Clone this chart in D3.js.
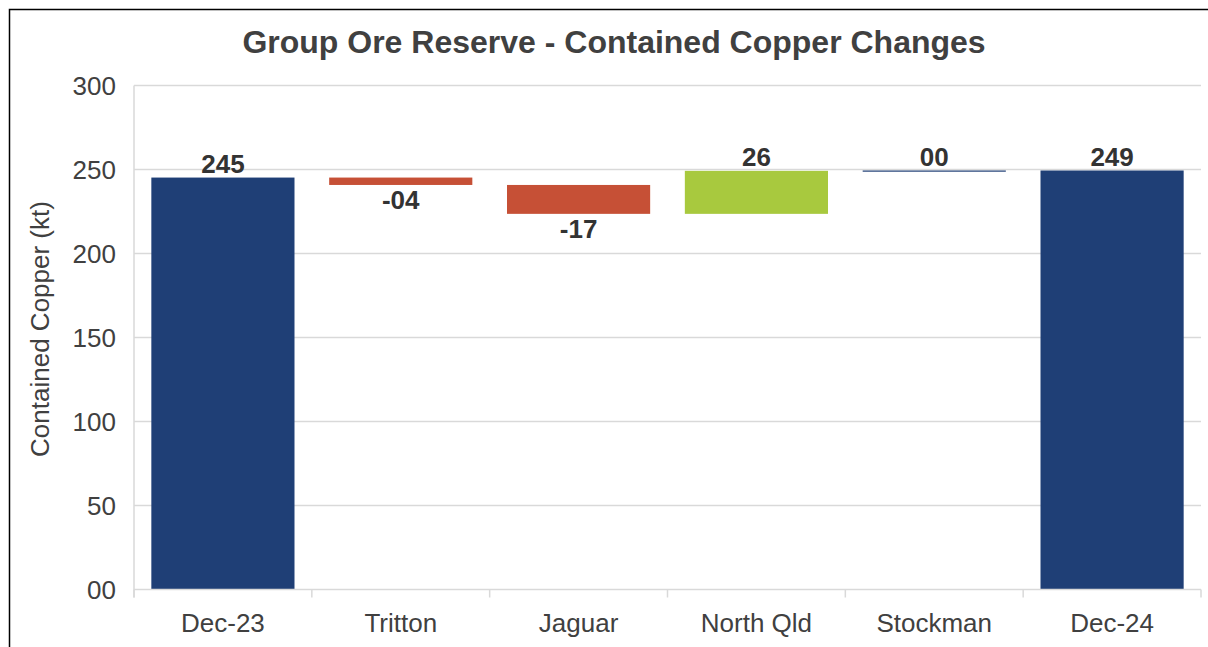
<!DOCTYPE html>
<html>
<head>
<meta charset="utf-8">
<script src="https://cdn.jsdelivr.net/npm/d3@7"></script>
<style>
  html, body { margin: 0; padding: 0; background: #fff; }
  svg { display: block; font-family: "Liberation Sans", Arial, sans-serif; }
</style>
</head>
<body>
<svg id="chart" width="1208" height="647"></svg>
<script>
const categories = ["Dec-23", "Tritton", "Jaguar", "North Qld", "Stockman", "Dec-24"];
const changes = [245.2, -4.4, -17.2, 25.6, 0.2, null]; // first = opening total, last = closing total (computed)
const kinds = ["total", "change", "change", "change", "change", "total"];
const barColors = ["#1F3F76", "#C65036", "#C65036", "#A8C93E", "#1F3F76", "#1F3F76"];
const yTicks = [0, 50, 100, 150, 200, 250, 300];
const title = "Group Ore Reserve - Contained Copper Changes";
const yTitle = "Contained Copper (kt)";

// build waterfall segments
let running = 0;
const bars = categories.map((c, i) => {
  let y0, y1, v, type;
  if (kinds[i] === "total") {
    if (changes[i] !== null) running = changes[i];
    y0 = 0; y1 = running; v = running; type = "total";
  } else {
    v = changes[i];
    y0 = running; y1 = running + v; running = y1;
    type = v < 0 ? "down" : "up";
  }
  return { cat: c, y0, y1, v, type, color: barColors[i] };
});

const svg = d3.select("#chart");
const W = 1208, H = 647;
const m = { left: 134, right: 7, top: 85.5, bottom: 57.5 };

// outer border
svg.append("path")
  .attr("d", `M9.5,${H} L9.5,9.5 L${W},9.5`)
  .attr("fill", "none").attr("stroke", "#000").attr("stroke-width", 1.5);

const x = d3.scaleBand().domain(categories)
  .range([m.left, W - m.right]).paddingInner(0.195).paddingOuter(0.0975);
const y = d3.scaleLinear().domain([0, 300]).range([H - m.bottom, m.top]);

// gridlines
svg.append("g").selectAll("line").data(yTicks.filter(d => d > 0)).join("line")
  .attr("x1", m.left).attr("x2", W - m.right)
  .attr("y1", d => y(d)).attr("y2", d => y(d))
  .attr("stroke", "#D9D9D9").attr("stroke-width", 1.5);

// left plot border
svg.append("line")
  .attr("x1", m.left).attr("x2", m.left)
  .attr("y1", y(300)).attr("y2", y(0) + 8)
  .attr("stroke", "#D9D9D9").attr("stroke-width", 1.5);

// bars
svg.append("g").selectAll("rect").data(bars).join("rect")
  .attr("x", d => x(d.cat))
  .attr("width", x.bandwidth())
  .attr("y", d => Math.min(y(d.y0), y(d.y1)))
  .attr("height", d => Math.max(1.2, Math.abs(y(d.y0) - y(d.y1))))
  .attr("fill", d => d.color);

// x axis line + ticks
const step = x.step();
const bounds = d3.range(categories.length + 1).map(i => m.left + i * step);
svg.append("line")
  .attr("x1", m.left).attr("x2", W - m.right)
  .attr("y1", y(0)).attr("y2", y(0))
  .attr("stroke", "#D9D9D9").attr("stroke-width", 1.5);
svg.append("g").selectAll("line").data(bounds).join("line")
  .attr("x1", d => d).attr("x2", d => d)
  .attr("y1", y(0)).attr("y2", y(0) + 8)
  .attr("stroke", "#D9D9D9").attr("stroke-width", 1.5);

// x labels
svg.append("g").selectAll("text").data(categories).join("text")
  .attr("x", d => x(d) + x.bandwidth() / 2)
  .attr("y", y(0) + 42.5)
  .attr("text-anchor", "middle")
  .attr("font-size", 26).attr("fill", "#404040")
  .text(d => d);

// y labels
const fmt = d => d3.format("02d")(Math.round(d));
svg.append("g").selectAll("text").data(yTicks).join("text")
  .attr("x", 116)
  .attr("y", d => y(d) + 9.5)
  .attr("text-anchor", "end")
  .attr("font-size", 26).attr("fill", "#404040")
  .text(d => fmt(d));

// y title
svg.append("text")
  .attr("transform", `translate(49,329) rotate(-90)`)
  .attr("text-anchor", "middle")
  .attr("font-size", 26).attr("fill", "#404040")
  .text(yTitle);

// title
svg.append("text")
  .attr("x", 614).attr("y", 53)
  .attr("text-anchor", "middle")
  .attr("font-size", 32).attr("font-weight", "bold").attr("fill", "#404040")
  .text(title);

// data labels
const labFmt = v => {
  const r = Math.round(v);
  return (r < 0 ? "-" : "") + d3.format("02d")(Math.abs(r));
};
svg.append("g").selectAll("text").data(bars).join("text")
  .attr("x", d => x(d.cat) + x.bandwidth() / 2)
  .attr("y", d => d.type === "down"
    ? y(Math.min(d.y0, d.y1)) + 24.5
    : y(Math.max(d.y0, d.y1)) - 5)
  .attr("text-anchor", "middle")
  .attr("font-size", 26).attr("font-weight", "bold").attr("fill", "#333333")
  .text(d => labFmt(d.v));
</script>
</body>
</html>
